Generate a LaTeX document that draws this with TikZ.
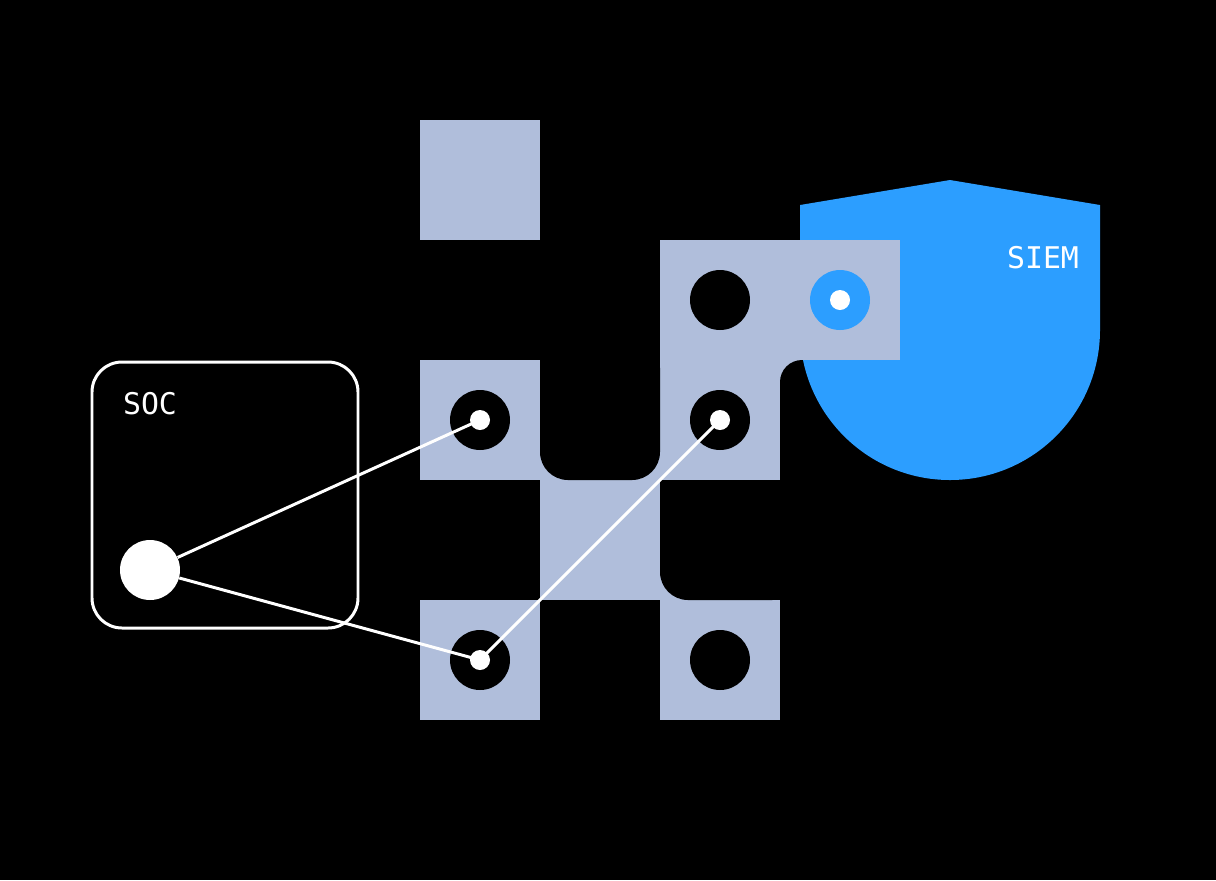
\documentclass[tikz,border=0pt]{standalone}
\usepackage{fontspec}
\setmonofont{DejaVu Sans Mono}
\definecolor{tile}{RGB}{176,190,219}
\definecolor{shieldblue}{RGB}{44,158,255}
\tikzset{
    hole/.style={circle, fill=black, minimum size=1.2cm, inner sep=0pt},
    dot/.style={circle, fill=white, minimum size=0.4cm, inner sep=0pt},
    link/.style={white, line width=1.7pt},
    label/.style={text=white, font=\ttfamily\fontsize{17}{20}\selectfont}
}
\begin{document}
\begin{tikzpicture}[x=0.02cm, y=-0.02cm]
        \fill[black] (0,0) rectangle (1216,880);
        \useasboundingbox (0,0) rectangle (1216,880);

        % corner under the shield
        \fill[tile] (780,360) rectangle (806,386);
        \fill[black, rounded corners=0.44cm] (780,360) rectangle (860,440);

        % shield
        \coordinate (SL) at (800,205);
        \coordinate (ST) at (950,180);
        \coordinate (SR) at (1100,205);
        \fill[shieldblue] (SL) -- (ST) -- (SR) -- (1100,330)
            arc[start angle=0, end angle=180, radius=150] -- cycle;
        \node[label] (siem) at (1043,258) {SIEM};

        % tiles
        \fill[tile] (420,120) rectangle (540,240);
        \fill[tile] (420,360) rectangle (540,480);
        \fill[tile] (540,480) rectangle (660,600);
        \fill[tile] (660,240) rectangle (900,360);
        \fill[tile] (660,360) rectangle (780,480);
        \fill[tile] (420,600) rectangle (540,720);
        \fill[tile] (660,600) rectangle (780,720);

        % fillets
        \fill[tile] (540,450) rectangle (660,480);
        \fill[tile] (660,570) rectangle (690,600);
        \fill[black, rounded corners=0.56cm] (540,340) rectangle (660,480);
        \fill[black, rounded corners=0.56cm] (660,480) rectangle (800,600);

        % holes
        \node[hole] (h1) at (480,420) {};
        \node[hole] (h2) at (720,300) {};
        \node[hole, fill=shieldblue] (h3) at (840,300) {};
        \node[hole] (h4) at (720,420) {};
        \node[hole] (h5) at (480,660) {};
        \node[hole] (h6) at (720,660) {};

        \node[dot] (d1) at (h1) {};
        \node[dot] (d3) at (h3) {};
        \node[dot] (d4) at (h4) {};
        \node[dot] (d5) at (h5) {};

        % soc
        \draw[white, line width=1.7pt, rounded corners=0.6cm] (92,362) rectangle (358,628);
        \node[label] (soc) at (150,404) {SOC};
        \node[circle, fill=white, minimum size=1.2cm, inner sep=0pt] (hub) at (150,570) {};

        \draw[link] (hub) -- (d1.center);
        \draw[link] (hub) -- (d5.center);
        \draw[link] (d5.center) -- (d4.center);

    \end{tikzpicture}
\end{document}
